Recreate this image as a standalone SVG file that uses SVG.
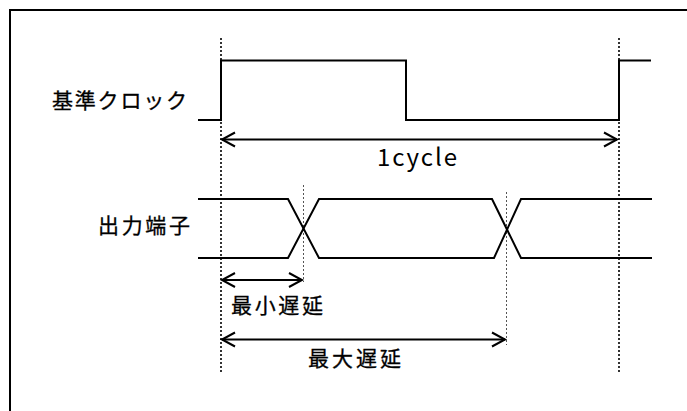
<svg xmlns="http://www.w3.org/2000/svg" width="687" height="411" viewBox="0 0 687 411">
<style>
.sig{fill:none;stroke:#000;stroke-width:2;stroke-linejoin:miter}
.dot{fill:none;stroke:#000;stroke-width:1.6;stroke-dasharray:2 2}
.dot2{fill:none;stroke:#555;stroke-width:1;stroke-dasharray:2 2}
.arr{fill:none;stroke:#000;stroke-width:2}
.head{fill:none;stroke:#000;stroke-width:2;stroke-linejoin:miter}
.lbl{font-family:"Noto Sans CJK JP","Noto Sans",sans-serif;font-size:21px;fill:#000;stroke:#000;stroke-width:0.3}
.num{font-family:"Noto Sans CJK JP","Noto Sans",sans-serif;font-size:24px;fill:#000}
</style>
<rect x="0" y="0" width="687" height="411" fill="#fff"/>
<rect id="frame" x="10" y="10" width="700" height="420" fill="none" stroke="#000" stroke-width="2"/>
<g id="guides">
<line class="dot" x1="221" y1="38" x2="221" y2="372"/>
<line class="dot" x1="619" y1="38" x2="619" y2="372"/>
<line class="dot2" x1="303.5" y1="185" x2="303.5" y2="282"/>
<line class="dot2" x1="506.5" y1="192" x2="506.5" y2="345"/>
</g>
<g id="clock">
<polyline class="sig" points="198,120 221,120 221,60.5 406,60.5 406,120 619,120 619,60.5 651,60.5"/>
<text class="lbl" x="52" y="108" textLength="135" lengthAdjust="spacing">基準クロック</text>
</g>
<g id="output">
<polyline class="sig" points="198,199 288,199 319,258 494,258 521,199 652,199"/>
<polyline class="sig" points="198,258 288,258 319,199 492,199 521,258 652,258"/>
<text class="lbl" x="98" y="233" textLength="92" lengthAdjust="spacing">出力端子</text>
</g>
<g id="connectors">
<g id="cycle">
<line class="arr" x1="222" y1="139.5" x2="617" y2="139.5"/>
<polyline class="head" points="235,132.5 222,139.5 235,146.5"/>
<polyline class="head" points="604,132.5 617,139.5 604,146.5"/>
<text class="num" x="377" y="166" textLength="80" lengthAdjust="spacing">1cycle</text>
</g>
<g id="mindelay">
<line class="arr" x1="222" y1="280" x2="302" y2="280"/>
<polyline class="head" points="235,273 222,280 235,287"/>
<polyline class="head" points="289,273 302,280 289,287"/>
<text class="lbl" x="231" y="313" textLength="92" lengthAdjust="spacing">最小遅延</text>
</g>
<g id="maxdelay">
<line class="arr" x1="222" y1="339.5" x2="505" y2="339.5"/>
<polyline class="head" points="235,332.5 222,339.5 235,346.5"/>
<polyline class="head" points="492,332.5 505,339.5 492,346.5"/>
<text class="lbl" x="308" y="366" textLength="93" lengthAdjust="spacing">最大遅延</text>
</g>
</g>
</svg>
